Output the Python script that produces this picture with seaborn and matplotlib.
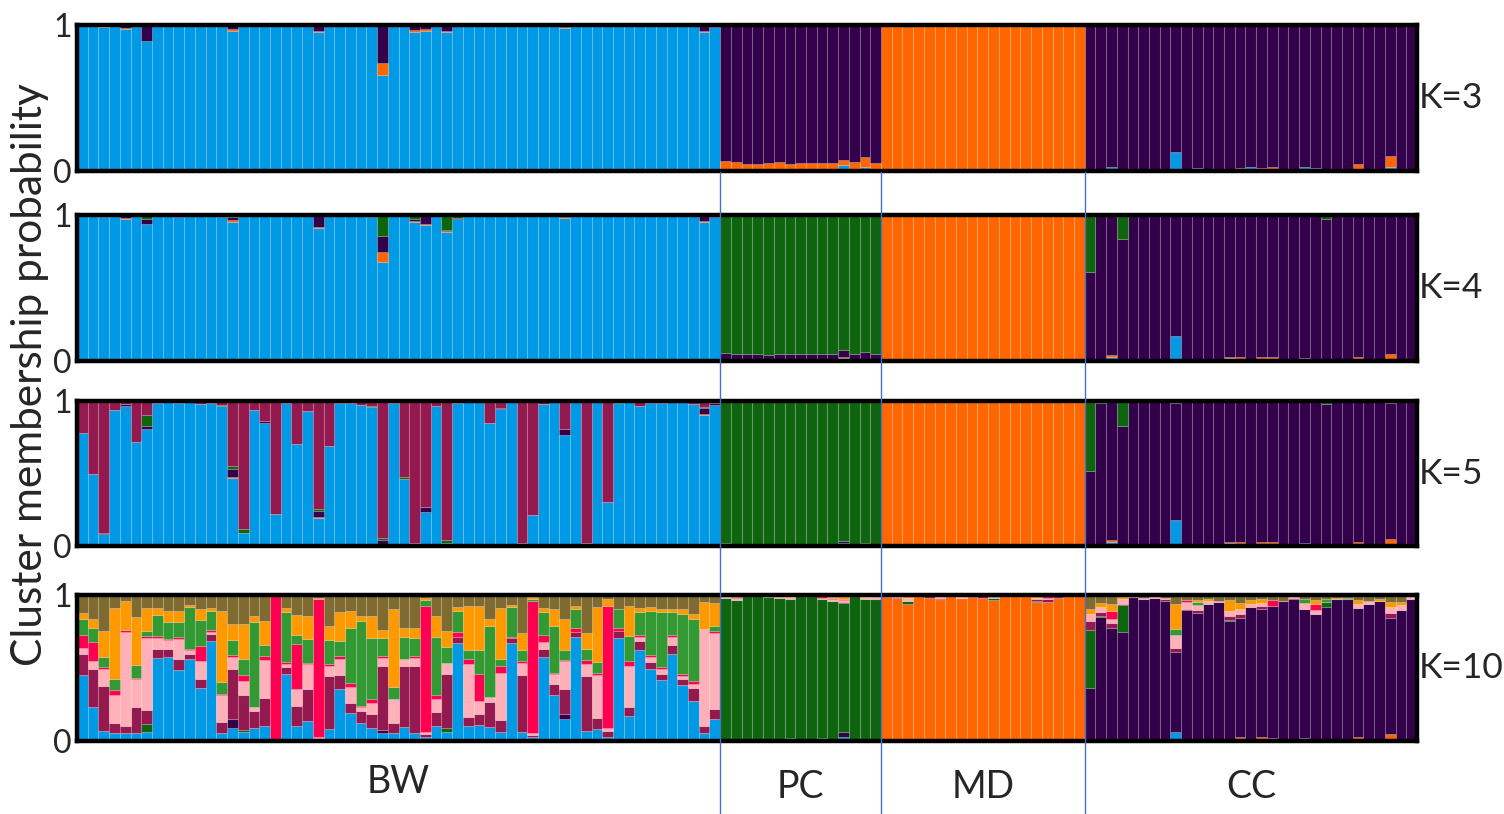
import numpy as np
import pandas as pd
import matplotlib.pyplot as plt
import seaborn as sns
from matplotlib import transforms
from matplotlib.lines import Line2D

# Populations (in plotting order) and number of individuals in each
GROUPS = ["BW", "PC", "MD", "CC"]
GROUP_SIZES = [60, 15, 19, 31]

PALETTE = {
    "blue": "#0099E6",
    "orange": "#FF6600",
    "purple": "#33004A",
    "dkgreen": "#0F640F",
    "maroon": "#93194E",
    "lpink": "#FFB0B8",
    "hpink": "#FF0050",
    "mgreen": "#339933",
    "yellow": "#FF9900",
    "olive": "#7F6A30",
}

# stacking order, bottom -> top
K3_ORDER = ["blue", "orange", "purple"]
K4_ORDER = ["blue", "orange", "purple", "dkgreen"]
K5_ORDER = ["blue", "orange", "purple", "dkgreen", "maroon"]
K10_ORDER = ["blue", "orange", "purple", "dkgreen", "maroon",
             "lpink", "hpink", "mgreen", "yellow", "olive"]

# ---------------- K=3 ----------------
K3_BW_ORANGE = [0, 0, .004, 0, .01, 0, 0, 0, 0, 0, 0, 0, 0, 0, .01, 0, 0, 0, 0, 0,
                0, 0, .01, 0, 0, 0, 0, 0, .088, 0, 0, .01, .01, 0, .005, 0, 0, 0, 0, 0,
                0, 0, 0, 0, 0, .003, 0, 0, 0, 0, 0, 0, 0, 0, 0, 0, 0, 0, .01, 0]
K3_BW_PURPLE = [.005, .005, .008, .005, .02, .005, .107, .003, .005, .008,
                .005, .005, .005, .005, .03, .01, .005, .005, .005, .005,
                .005, .005, .04, .008, .005, .005, .008, .01, .257, .005,
                .008, .035, .03, .01, .04, .005, .005, .005, .005, .005,
                .005, .005, .005, .005, .008, .015, .008, .005, .005, .005,
                .008, .008, .005, .005, .008, .008, .005, .01, .04, .015]
K3_PC_BLUE = [.017, .015, .005, .005, .005, .01, .005, .005, .005, .005, .015, .04, .005, .025, .005]
K3_PC_ORANGE = [.054, .05, .045, .045, .05, .05, .045, .05, .05, .05, .04, .036, .06, .07, .05]
K3_MD_BLUE = [0, .005, 0, 0, 0, 0, 0, 0, 0, 0, 0, 0, 0, 0, .005, .005, 0, 0, 0]
K3_MD_PURPLE = [.008, .01, .012, .008, .008, .008, .008, .008, .01, .008,
                .008, .008, .008, .008, .012, .008, .008, .008, .008]
K3_CC_BLUE = [.005, .005, .03, .005, .005, .005, .005, .01, .13, .01, .02, .01, .01, .015, .01, .03,
              .005, .01, .005, .005, .03, .02, .005, .005, .01, .01, .005, .005, .025, .005, .005]
K3_CC_ORANGE = [.01, 0, 0, .005, 0, 0, .005, 0, 0, 0, 0, 0, .005, 0, .01, 0,
                .015, .02, 0, 0, 0, 0, 0, 0, 0, .04, 0, 0, .075, .005, .005]

# ---------------- K=4 ----------------
K4_BW_ORANGE = [0, 0, .004, 0, .005, 0, .005, 0, 0, 0, 0, 0, 0, 0, .01, 0, 0, 0, 0, 0,
                0, 0, .01, 0, 0, 0, 0, 0, .065, 0, 0, .005, .01, 0, .005, 0, 0, 0, 0, 0,
                0, 0, 0, 0, 0, .003, 0, 0, 0, 0, 0, 0, 0, 0, 0, 0, 0, 0, .01, 0]
K4_BW_PURPLE = [.005, .005, .005, .005, .01, .005, .03, .003, .005, .005,
                .005, .005, .005, .005, .02, .005, .005, .005, .005, .005,
                .005, .005, .07, .005, .005, .005, .005, .005, .113, .005,
                .005, .01, .05, .005, .01, .005, .005, .005, .005, .005,
                .005, .005, .005, .005, .005, .01, .005, .005, .005, .005,
                .005, .005, .005, .005, .005, .005, .005, .005, .03, .01]
K4_BW_GREEN = [.005, .005, .008, .005, .01, .005, .03, .005, .005, .008,
               .005, .005, .005, .01, .015, .005, .005, .005, .005, .005,
               .005, .005, .01, .005, .005, .005, .005, .008, .142, .005,
               .005, .03, .01, .005, .1, .02, .005, .005, .005, .005,
               .005, .005, .005, .005, .005, .005, .005, .005, .005, .005,
               .005, .005, .005, .005, .005, .005, .005, .005, .01, .005]
K4_PC_BLUE = [.005, 0, 0, 0, 0, 0, 0, 0, 0, 0, .005, .02, 0, .005, 0]
K4_PC_ORANGE = [.01, .005, .005, .005, .005, .005, .005, .005, .01, .005, .005, .005, .005, .01, .005]
K4_PC_PURPLE = [.04, .045, .04, .04, .035, .04, .04, .045, .04, .045, .04, .05, .04, .045, .04]
K4_MD_BLUE = [0, .005, 0, 0, 0, 0, 0, 0, 0, 0, 0, 0, 0, 0, .005, .005, 0, 0, 0]
K4_MD_PURPLE = [.005] * 19
K4_CC_BLUE = [.005, .005, .03, .005, .005, .005, .005, .005, .17, .01, .005, .005, .005, .02, .015, .01,
              .005, .015, .005, .005, .02, .005, .005, .005, .005, .005, .005, .005, .01, .005, .005]
K4_CC_ORANGE = [.005, 0, .01, 0, 0, 0, 0, 0, 0, 0, 0, 0, 0, .005, .01, 0,
                .02, .015, 0, 0, 0, 0, 0, 0, 0, .025, 0, 0, .035, 0, .005]
K4_CC_GREEN = [.39, .01, .005, .164, .005, .005, .005, .005, .01, .01, .005, .005, .005, .01, .01, .005,
               .005, .01, .005, .005, .005, .005, .03, .005, .005, .005, .01, .005, .005, .005, .005]

# ---------------- K=5 ----------------
K5_BW_ORANGE = [0, 0, 0, 0, 0, 0, 0, 0, 0, 0, 0, 0, 0, 0, .005, 0, 0, 0, 0, 0,
                0, 0, .005, 0, 0, 0, 0, 0, .007, 0, 0, 0, 0, 0, 0, 0, 0, 0, 0, 0,
                0, 0, 0, 0, 0, 0, 0, 0, 0, 0, 0, 0, 0, 0, .005, 0, 0, 0, .005, 0]
K5_BW_PURPLE = [0, 0, .005, 0, .017, 0, .026, 0, 0, 0, 0, 0, 0, 0, .061, 0, 0, .017, 0, 0,
                0, 0, .042, 0, 0, 0, 0, 0, .024, 0, 0, 0, .035, 0, 0, 0, 0, 0, 0, .005,
                0, 0, 0, 0, 0, .04, 0, 0, 0, 0, 0, 0, 0, 0, 0, 0, 0, 0, .04, .015]
K5_BW_GREEN = [0, 0, 0, 0, 0, 0, .071, 0, 0, 0, 0, 0, 0, .005, .017, .028, 0, 0, 0, 0,
               0, 0, .012, 0, 0, 0, .005, .007, .017, .005, .01, 0, 0, 0, .019, 0, 0, 0, 0, 0,
               0, 0, 0, 0, 0, 0, 0, 0, 0, 0, .005, 0, 0, 0, 0, 0, 0, 0, .01, 0]
K5_BW_MAROON = [.22, .504, .91, .064, .018, .284, .099, .012, .01, .015,
                .005, .024, .012, .03, .449, .882, .064, .137, .78, .017,
                .296, .071, .745, .307, .017, .015, .025, .036, .945, .012,
                .527, .981, .733, .035, .957, .015, .008, .008, .154, .05,
                .01, .981, .785, .024, .01, .196, .008, .976, .01, .697,
                .01, .01, .035, .015, .012, .008, .01, .024, .04, .015]
K5_PC_BLUE = [.005, 0, 0, 0, 0, 0, 0, 0, 0, 0, .005, .02, 0, .005, 0]
K5_PC_ORANGE = [.005, 0, 0, 0, 0, 0, 0, 0, .005, .005, 0, 0, 0, .005, 0]
K5_PC_PURPLE = [.01, .01, .01, .01, .01, .01, .015, .01, .01, .01, .01, .015, .01, .01, .01]
K5_MD_BLUE = [0, .005, 0, 0, 0, 0, 0, 0, 0, 0, 0, 0, 0, 0, .005, .005, 0, 0, 0]
K5_MD_MAROON = [.005] * 19
K5_CC_BLUE = [.005, .005, .03, .005, .005, .005, .005, .005, .18, .01, .005, .005, .005, .02, .015, .01,
              .005, .015, .005, .005, .02, .005, .005, .005, .005, .005, .005, .005, .01, .005, .005]
K5_CC_ORANGE = [.005, 0, .01, 0, 0, 0, 0, 0, 0, 0, 0, 0, 0, .005, .01, 0,
                .02, .015, 0, 0, 0, 0, 0, 0, 0, .025, 0, 0, .035, 0, .005]
K5_CC_GREEN = [.47, .01, .005, .17, .005, .005, .005, .005, .01, .005, .005, .005, .005, .005, .005, .005,
               .005, .005, .005, .005, .005, .005, .02, .005, .005, .005, .005, .005, .005, .005, .005]
K5_CC_MAROON = [.01, .005, .005, 0, 0, 0, 0, 0, .005, 0, 0, 0, 0, 0, 0, 0,
                0, 0, 0, 0, 0, 0, 0, 0, 0, 0, 0, 0, .01, 0, 0]

# ---------------- K=10 ----------------
K10_BW_BLUE = [.455, .23, .07, .057, .052, .052, .064, .569, .578, .483,
               .562, .36, .687, .052, .088, .064, .088, .10, 0, .46,
               .10, .135, 0, .08, .355, .194, .123, .088, .052, .052,
               .095, .057, .03, .104, .064, .668, .10, .111, .095, .064,
               .668, .064, .024, .573, .313, .152, .711, .071, .08, .03,
               .704, .171, .621, .49, .419, .597, .384, .277, .052, .152]
K10_BW_PURPLE = [0, 0, 0, 0, 0, 0, 0, 0, 0, 0, 0, 0, 0, 0, .064, 0, 0, 0, 0, 0,
                 0, 0, .02, 0, 0, 0, 0, 0, .024, 0, 0, 0, 0, 0, 0, 0, 0, 0, 0, 0,
                 0, 0, 0, 0, 0, .03, 0, 0, 0, 0, 0, 0, 0, 0, 0, 0, 0, 0, 0, 0]
K10_BW_DKGREEN = [0, 0, 0, 0, 0, 0, .054, 0, 0, 0, 0, 0, 0, 0, 0, .012, 0, 0, 0, 0,
                  0, 0, 0, 0, 0, 0, 0, 0, 0, 0, 0, 0, 0, 0, .024, 0, 0, 0, 0, 0,
                  0, 0, 0, 0, 0, 0, 0, 0, 0, 0, 0, 0, 0, 0, 0, 0, 0, 0, 0, 0]
K10_BW_MAROON = [.14, .26, .31, .066, .048, .178, .092, .059, .055, .079,
                 .035, .064, .045, .076, .338, .237, .118, .194, .01, .047,
                 .142, .218, 0, .363, .095, .067, .083, .094, .438, .071,
                 .419, .457, .02, .095, .372, .043, .064, .071, .175, .078,
                 .036, .386, .016, .06, .076, .173, .033, .372, .079, .04,
                 .047, .059, .066, .048, .041, .059, .043, .088, .048, .066]
K10_BW_LPINK = [.04, .055, .11, .19, .65, .194, .494, .076, .059, .135,
                .024, .126, .014, .185, .088, .099, .024, .261, 0, .019,
                .113, .173, .01, .071, .112, .111, .024, .079, .055, .166,
                .048, .055, .01, .09, .071, 0, .362, .095, .031, .325,
                0, .081, .012, .047, .071, .19, 0, .083, .296, .017,
                0, .284, .024, .035, .03, .055, .016, .024, .668, .521]
K10_BW_HPINK = [.09, .13, .02, .035, .012, .007, .012, .012, .007, .012,
                .01, .099, .017, .012, .012, .043, 0, .03, .98, .012,
                .306, .007, .94, .012, .017, .024, .012, .028, .01, 0,
                0, .01, .864, .029, 0, .033, .036, .183, 0, .047,
                .01, .019, .905, .047, .007, .01, .031, .029, .012, .836,
                .024, .036, .016, .017, .017, .012, .017, .019, 0, .012]
K10_BW_MGREEN = [.11, .10, .065, .08, 0, .089, .04, .147, .116, .106,
                 .284, .18, .126, .078, .102, .107, .585, .071, 0, .344,
                 .066, .164, 0, .166, .108, .379, .58, .415, .125, .083,
                 .149, .128, .04, .393, .114, .149, .059, .166, .486, .048,
                 .201, .076, .019, .155, .32, .066, .13, .078, .071, 0,
                 .13, .166, .155, .303, .375, .159, .41, .426, 0, .036]
K10_BW_YELLOW = [.04, .06, .18, .48, .194, .327, .156, .047, .078, .078,
                 .019, .076, .021, .49, .107, .237, .043, .166, 0, .028,
                 .136, .161, .01, .095, .199, .114, .036, .154, .059, .533,
                 .064, .066, .015, .147, .106, .024, .303, .298, .052, .348,
                 .019, .113, .012, .028, .118, .213, .019, .106, .379, .052,
                 0, .208, .028, .024, .023, .023, .035, .036, .185, .161]

K10_PC_BLUE = [.005, 0, 0, 0, 0, 0, 0, 0, 0, 0, 0, .03, 0, 0, 0]
K10_PC_ORANGE = [0, 0, 0, 0, 0, 0, 0, 0, 0, .015, 0, 0, .005, 0, 0]
K10_PC_PURPLE = [.005, 0, 0, 0, 0, .005, .02, 0, .005, .005, .005, .03, 0, .005, 0]
K10_PC_MAROON = [0, .005, 0, 0, .005, 0, 0, 0, 0, 0, 0, .005, 0, .005, 0]
K10_PC_LPINK = [.01, .01, 0, 0, 0, .01, .015, 0, 0, .01, .015, .015, 0, .01, .015]
K10_PC_HPINK = [0, .005, 0, 0, 0, 0, 0, 0, 0, .01, .005, .01, 0, 0, 0]
K10_PC_YELLOW = [0, .005, 0, 0, 0, 0, .005, 0, 0, 0, .01, .015, 0, .005, 0]
K10_PC_OLIVE = [.01, .012, .01, .01, .012, .01, .01, .01, .01, .01, .012, .01, .01, .01, .01]

K10_MD_BLUE = [0, 0, .007, 0, 0, 0, 0, 0, 0, 0, 0, 0, 0, .005, 0, 0, 0, 0, 0]
K10_MD_DKGREEN = [0, 0, .02, 0, 0, 0, 0, 0, 0, 0, .01, 0, 0, 0, .005, 0, 0, 0, 0]
K10_MD_MAROON = [.005, .005, 0, 0, .01, .01, 0, 0, .005, .01, 0, 0, 0, 0, .01, .015, .01, 0, 0]
K10_MD_LPINK = [0, .005, .02, 0, 0, .01, 0, .01, 0, 0, .01, 0, 0, 0, .01, .01, 0, 0, 0]
K10_MD_HPINK = [0, 0, 0, 0, 0, 0, 0, 0, 0, 0, 0, 0, 0, 0, 0, .01, 0, 0, 0]
K10_MD_YELLOW = [0, 0, .01, 0, 0, 0, 0, 0, 0, 0, 0, 0, 0, 0, .01, 0, 0, 0, 0]
K10_MD_OLIVE = [.01, .01, .01, .01, .01, .008, .01, .01, .01, .01, .012, .01, .01, .01, .01, .01, .01, .01, .008]

K10_CC_BLUE = [.01, .01, .017, .008, 0, 0, 0, 0, .064, .01, .01, 0, 0, .017, .017, .017,
               .005, .012, 0, 0, .02, .005, 0, 0, .01, .005, .01, 0, .01, 0, 0]
K10_CC_ORANGE = [0, 0, 0, 0, 0, 0, 0, 0, 0, 0, 0, 0, 0, 0, .01, 0,
                 .025, .01, 0, 0, 0, 0, 0, 0, 0, .02, 0, 0, .035, 0, 0]
K10_CC_DKGREEN = [.403, .012, 0, .183, 0, 0, 0, 0, 0, 0, 0, 0, 0, .007, 0, 0,
                  0, 0, 0, 0, 0, 0, .036, 0, 0, 0, 0, 0, 0, 0, 0]
K10_CC_MAROON = [.059, .028, .031, .01, 0, 0, 0, .01, .024, .01, .02, 0, 0, .03, .03, 0,
                 .02, 0, 0, .01, 0, 0, 0, 0, 0, 0, 0, 0, .036, 0, 0]
K10_CC_LPINK = [.048, .031, .028, .03, 0, .01, .01, .01, .094, .05, .035, .02, .01, .035, .035, .024,
                .017, 0, 0, .01, .043, .024, 0, 0, 0, .03, .02, 0, .035, .03, .02]
K10_CC_HPINK = [0, 0, .059, 0, 0, 0, 0, 0, 0, .01, 0, 0, 0, 0, 0, 0,
                0, .04, 0, 0, 0, .047, 0, 0, 0, 0, 0, 0, 0, 0, 0]
K10_CC_MGREEN = [0, 0, 0, 0, 0, 0, 0, 0, .04, 0, .02, 0, 0, 0, 0, 0,
                 0, 0, 0, 0, .024, 0, .019, 0, .01, 0, 0, 0, 0, 0, 0]
K10_CC_YELLOW = [.035, .031, .048, .017, 0, 0, 0, 0, .173, 0, .015, .02, 0, .071, .043, .024,
                 .03, 0, 0, 0, 0, .024, 0, .01, 0, .024, 0, .01, .04, .02, 0]
K10_CC_OLIVE = [.095, .052, .059, .012, .015, .02, .01, .02, .059, .036, .036, .024, .04, .036, .052, .036,
                .028, .036, .043, .01, .028, .035, .03, .02, .02, .036, .04, .03, .045, .05, .01]


def assemble(order, groups):
    """groups: per population (dominant cluster, {cluster: minor values});
    the dominant cluster takes whatever is left so each bar sums to 1."""
    cols = {c: [] for c in order}
    for (dominant, minor), n in zip(groups, GROUP_SIZES):
        rest = np.ones(n)
        for c in order:
            if c == dominant:
                continue
            v = np.asarray(minor.get(c, np.zeros(n)), float)
            cols[c].append(v)
            rest = rest - v
        cols[dominant].append(np.clip(rest, 0, 1))
    frames = []
    for c in order:
        q = np.concatenate(cols[c])
        frames.append(pd.DataFrame({"ind": np.arange(len(q)), "cluster": c, "q": q}))
    return pd.concat(frames, ignore_index=True)


panels = [
    ("K=3", K3_ORDER, [
        ("blue", {"orange": K3_BW_ORANGE, "purple": K3_BW_PURPLE}),
        ("purple", {"blue": K3_PC_BLUE, "orange": K3_PC_ORANGE}),
        ("orange", {"blue": K3_MD_BLUE, "purple": K3_MD_PURPLE}),
        ("purple", {"blue": K3_CC_BLUE, "orange": K3_CC_ORANGE}),
    ]),
    ("K=4", K4_ORDER, [
        ("blue", {"orange": K4_BW_ORANGE, "purple": K4_BW_PURPLE, "dkgreen": K4_BW_GREEN}),
        ("dkgreen", {"blue": K4_PC_BLUE, "orange": K4_PC_ORANGE, "purple": K4_PC_PURPLE}),
        ("orange", {"blue": K4_MD_BLUE, "purple": K4_MD_PURPLE}),
        ("purple", {"blue": K4_CC_BLUE, "orange": K4_CC_ORANGE, "dkgreen": K4_CC_GREEN}),
    ]),
    ("K=5", K5_ORDER, [
        ("blue", {"orange": K5_BW_ORANGE, "purple": K5_BW_PURPLE,
                  "dkgreen": K5_BW_GREEN, "maroon": K5_BW_MAROON}),
        ("dkgreen", {"blue": K5_PC_BLUE, "orange": K5_PC_ORANGE, "purple": K5_PC_PURPLE}),
        ("orange", {"blue": K5_MD_BLUE, "maroon": K5_MD_MAROON}),
        ("purple", {"blue": K5_CC_BLUE, "orange": K5_CC_ORANGE,
                    "dkgreen": K5_CC_GREEN, "maroon": K5_CC_MAROON}),
    ]),
    ("K=10", K10_ORDER, [
        ("olive", {"blue": K10_BW_BLUE, "purple": K10_BW_PURPLE, "dkgreen": K10_BW_DKGREEN,
                   "maroon": K10_BW_MAROON, "lpink": K10_BW_LPINK, "hpink": K10_BW_HPINK,
                   "mgreen": K10_BW_MGREEN, "yellow": K10_BW_YELLOW}),
        ("dkgreen", {"blue": K10_PC_BLUE, "orange": K10_PC_ORANGE, "purple": K10_PC_PURPLE,
                     "maroon": K10_PC_MAROON, "lpink": K10_PC_LPINK, "hpink": K10_PC_HPINK,
                     "yellow": K10_PC_YELLOW, "olive": K10_PC_OLIVE}),
        ("orange", {"blue": K10_MD_BLUE, "dkgreen": K10_MD_DKGREEN, "maroon": K10_MD_MAROON,
                    "lpink": K10_MD_LPINK, "hpink": K10_MD_HPINK, "yellow": K10_MD_YELLOW,
                    "olive": K10_MD_OLIVE}),
        ("purple", {"blue": K10_CC_BLUE, "orange": K10_CC_ORANGE, "dkgreen": K10_CC_DKGREEN,
                    "maroon": K10_CC_MAROON, "lpink": K10_CC_LPINK, "hpink": K10_CC_HPINK,
                    "mgreen": K10_CC_MGREEN, "yellow": K10_CC_YELLOW, "olive": K10_CC_OLIVE}),
    ]),
]

# panel top / bottom in pixels
panel_px = [(25, 171), (215, 361), (401, 546), (595, 741)]

sns.set_theme(style="white")
plt.rcParams["font.family"] = ["Lato", "DejaVu Sans"]

W, H = 1504, 814
fig = plt.figure(figsize=(W / 100, H / 100), dpi=100)
n_total = sum(GROUP_SIZES)

axes = []
for (label, order, groups), (top, bot) in zip(panels, panel_px):
    ax = fig.add_axes([77 / W, 1 - bot / H, 1340 / W, (bot - top) / H])
    df = assemble(order, groups)
    # seaborn stacks the first hue level on top, so feed the order reversed
    sns.histplot(data=df, x="ind", weights="q", hue="cluster",
                 hue_order=order[::-1], palette=PALETTE, multiple="stack",
                 discrete=True, shrink=1, legend=False, ax=ax,
                 edgecolor=(1, 1, 1, 0.12), linewidth=0.8, alpha=1)
    ax.set_xlim(-0.5, n_total - 0.5)
    ax.set_ylim(0, 1)
    ax.set_xlabel("")
    ax.set_ylabel("")
    ax.set_xticks([])
    ax.set_yticks([0, 1])
    ax.set_yticklabels(["0", "1"], fontsize=23)
    ax.tick_params(axis="y", length=0, pad=4)
    for sp in ax.spines.values():
        sp.set_visible(True)
        sp.set_color("black")
        sp.set_linewidth(3.2)
    ax.text(1.001, 0.5, label, transform=ax.transAxes, ha="left",
            va="center", fontsize=25.5)
    axes.append(ax)

# population boundaries and labels
bottom_ax = axes[-1]
trans = transforms.blended_transform_factory(bottom_ax.transData, fig.transFigure)
edges = np.cumsum(GROUP_SIZES)
for e in edges[:-1]:
    fig.add_artist(Line2D([e - 0.5, e - 0.5], [1 - 172 / H, 0], transform=trans,
                          color="#4472C4", linewidth=1, zorder=5))
starts = np.concatenate([[0], edges[:-1]])
label_y = [782, 787, 787, 787]
for g, s, e, yy in zip(GROUPS, starts, edges, label_y):
    fig.text((s + e - 1) / 2, 1 - yy / H, g, transform=trans, ha="center",
             va="center", fontsize=27)

fig.text(30 / W, 1 - 375 / H, "Cluster membership probability", rotation=90,
         ha="center", va="center", fontsize=30.5)

fig.savefig("out.png", dpi=100)
